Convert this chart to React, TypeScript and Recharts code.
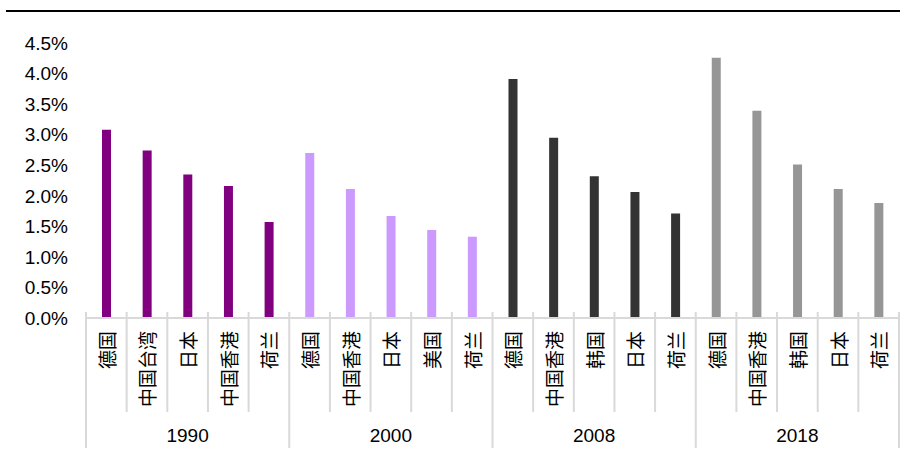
import React from "react";
import { BarChart, Bar, XAxis, YAxis, Cell } from "recharts";

const years = ["1990", "2000", "2008", "2018"];
const names1990 = ["德国", "中国台湾", "日本", "中国香港", "荷兰"];
const values1990 = [3.08, 2.74, 2.35, 2.16, 1.57];
const names2000 = ["德国", "中国香港", "日本", "美国", "荷兰"];
const values2000 = [2.7, 2.11, 1.67, 1.44, 1.33];
const names2008 = ["德国", "中国香港", "韩国", "日本", "荷兰"];
const values2008 = [3.91, 2.95, 2.32, 2.06, 1.71];
const names2018 = ["德国", "中国香港", "韩国", "日本", "荷兰"];
const values2018 = [4.26, 3.39, 2.51, 2.11, 1.88];
const yTicks = [0, 0.5, 1, 1.5, 2, 2.5, 3, 3.5, 4, 4.5];

const yearColors = ["#800080", "#cc99ff", "#333333", "#969696"];

const groups = [
  { names: names1990, values: values1990 },
  { names: names2000, values: values2000 },
  { names: names2008, values: values2008 },
  { names: names2018, values: values2018 },
];

const data = groups.flatMap((g, gi) =>
  g.names.map((name, i) => ({
    key: `${years[gi]}-${name}`,
    name,
    year: years[gi],
    group: gi,
    value: g.values[i],
  }))
);

const W = 919;
const H = 455;
const PLOT_LEFT = 86;
const PLOT_RIGHT = 899;
const BAND = (PLOT_RIGHT - PLOT_LEFT) / data.length;
const GRID = "#d9d9d9";
const FONT = "'Liberation Sans', Arial, sans-serif";
const CJK = "'Noto Sans CJK SC', sans-serif";

// category name (vertical), separators and the year label under each group
const CategoryTick = (props: any) => {
  const { x, y, index } = props;
  const d = data[index];
  if (!d) return null;
  const left = x - BAND / 2;
  const right = x + BAND / 2;
  const posInGroup = index % 5;
  const isLast = index === data.length - 1;
  return (
    <g>
      <line
        x1={left} x2={left} y1={y - 6}
        y2={posInGroup === 0 ? y + 130 : y + 94}
        stroke={GRID} strokeWidth={2}
      />
      {isLast && (
        <line x1={right} x2={right} y1={y - 6} y2={y + 130} stroke={GRID} strokeWidth={2} />
      )}
      <text
        transform={`translate(${x},${y + 13}) rotate(-90)`}
        textAnchor="end"
        dominantBaseline="central"
        fontFamily={CJK}
        fontSize={19}
        fill="#000"
      >
        {d.name}
      </text>
      {posInGroup === 2 && (
        <text
          x={x} y={y + 117}
          textAnchor="middle"
          dominantBaseline="central"
          fontFamily={FONT}
          fontSize={19}
          fill="#000"
        >
          {d.year}
        </text>
      )}
    </g>
  );
};

export default function App() {
  return (
    <div style={{ position: "absolute", left: 0, top: 0, width: W, height: H, background: "#fff" }}>
      <div style={{ position: "absolute", left: 6, top: 10, width: 894, height: 2, background: "#000" }} />
      <BarChart
        width={W}
        height={H}
        data={data}
        margin={{ top: 43, right: W - PLOT_RIGHT, bottom: 0, left: 8 }}
      >
        <XAxis
          dataKey="key"
          height={H - 318}
          interval={0}
          axisLine={{ stroke: GRID, strokeWidth: 2 }}
          tickLine={false}
          tickSize={0}
          tickMargin={0}
          tick={<CategoryTick />}
        />
        <YAxis
          width={PLOT_LEFT - 8}
          domain={[0, 4.5]}
          ticks={yTicks}
          interval={0}
          axisLine={false}
          tickLine={false}
          tickSize={0}
          tickMargin={18}
          tickFormatter={(v: number) => `${v.toFixed(1)}%`}
          tick={{ fill: "#000", fontSize: 19, fontFamily: FONT }}
        />
        <Bar dataKey="value" barSize={9} isAnimationActive={false}>
          {data.map((d, i) => (
            <Cell key={`c-${i}`} fill={yearColors[d.group]} />
          ))}
        </Bar>
      </BarChart>
    </div>
  );
}
